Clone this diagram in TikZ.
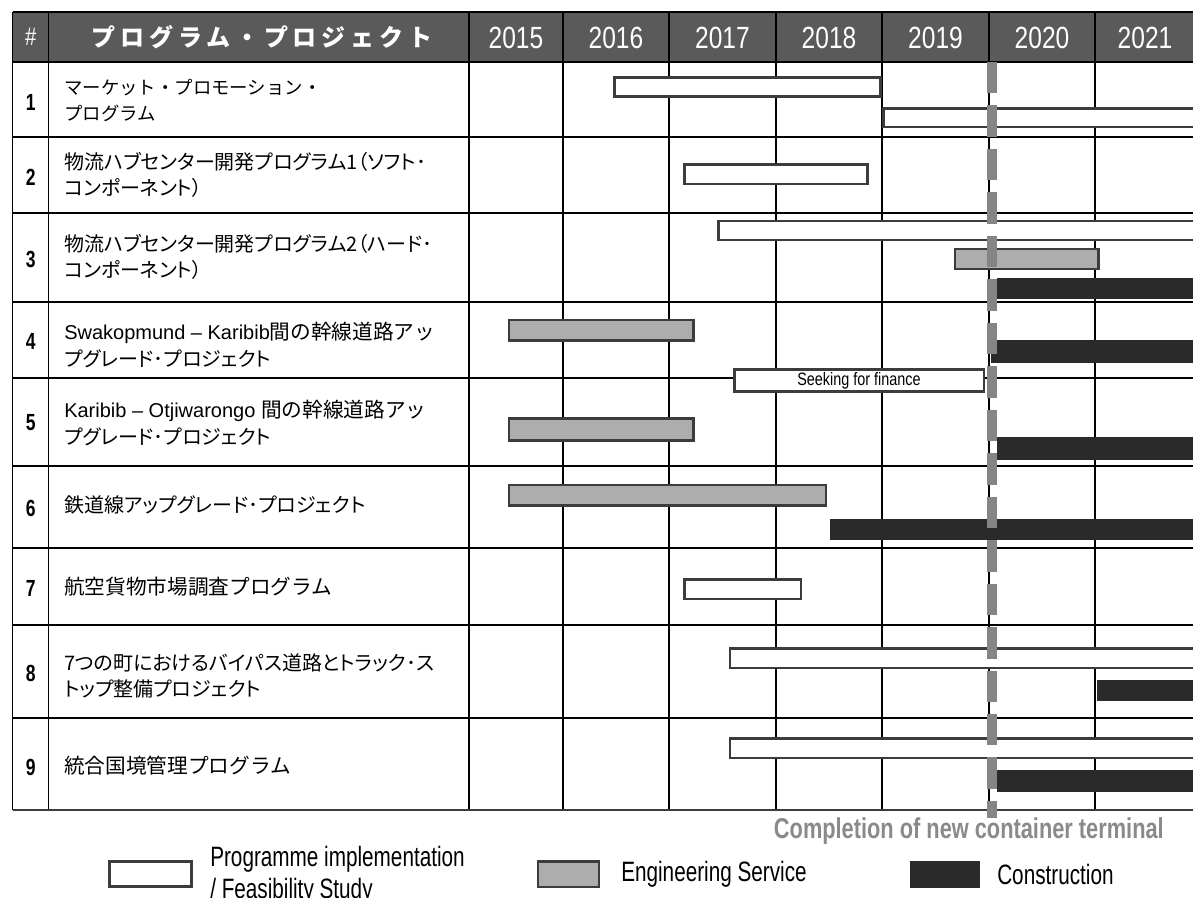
\documentclass[tikz,border=0pt]{standalone}
\usepackage{fontspec}
\setmainfont{Liberation Sans}
\newfontfamily\jp{Noto Sans CJK JP}
\newfontfamily\jpp{Noto Sans CJK JP}[RawFeature=+palt]
\newfontfamily\jphead{Noto Sans CJK JP}[LetterSpace=20]
\newfontfamily\lat{Liberation Sans}
\newfontfamily\narrow{Liberation Sans}[FakeStretch=0.8]
\newfontfamily\numf{Liberation Sans}[FakeStretch=0.75]
\newfontfamily\legf{Liberation Sans}[FakeStretch=0.74]
\newfontfamily\notef{Liberation Sans}[FakeStretch=0.76]
\definecolor{hdr}{HTML}{5A5A5A}
\definecolor{barline}{HTML}{3C3C3C}
\definecolor{gfill}{HTML}{ADADAD}
\definecolor{kfill}{HTML}{2A2A2A}
\definecolor{mile}{HTML}{858585}
\definecolor{note}{HTML}{8A8A8A}
\tikzset{
  gridline/.style={black, line width=1.1pt},
  wbar/.style={draw=barline, line width=2.2pt, fill=white},
  gbar/.style={draw=barline, line width=1.8pt, fill=gfill},
  kbar/.style={draw=kfill, line width=1pt, fill=kfill},
  hdrtxt/.style={text=white, inner sep=0pt, font=\narrow\fontsize{23}{26}\selectfont},
  numtxt/.style={inner sep=0pt, font=\numf\bfseries\fontsize{17.5}{20}\selectfont},
  lbl/.style={anchor=west, inner sep=0pt, align=left, font=\jpp\fontsize{15}{20}\selectfont},
  legtxt/.style={inner sep=0pt, font=\legf\fontsize{21}{24}\selectfont},
}
\newcommand{\latin}[1]{{\lat\fontsize{15}{20}\selectfont #1}}
\newcommand{\wide}[1]{{\jp\fontsize{15.5}{20}\selectfont #1}}
\begin{document}
\begin{tikzpicture}[x=0.75pt,y=-0.75pt]
\useasboundingbox (0,0) rectangle (1193,897);
\clip (0,0) rectangle (1193,897);
% header
\fill[hdr] (12.7,12) rectangle (1193,62);
% grid
\foreach \yy in {12,62,137,213,302,378,466,548,625,718}
  \draw[gridline] (12.7,\yy) -- (1193,\yy);
\foreach \xx in {12.7,48.7,469,563,669,776,882,989,1095}
  \draw[gridline] (\xx,12) -- (\xx,810);
\draw[draw=barline, line width=2pt] (12.7,810) -- (1193,810);
% header texts
\node[hdrtxt, font=\narrow\fontsize{19}{22}\selectfont] (hnum) at (30.7,37) {\#};
\node[hdrtxt, font=\jphead\bfseries\fontsize{18}{22}\selectfont] (htitle) at (262,37) {プログラム・プロジェクト};
\node[hdrtxt] (y15) at (516,38) {2015};
\node[hdrtxt] (y16) at (616,38) {2016};
\node[hdrtxt] (y17) at (722.5,38) {2017};
\node[hdrtxt] (y18) at (829,38) {2018};
\node[hdrtxt] (y19) at (935.5,38) {2019};
\node[hdrtxt] (y20) at (1042,38) {2020};
\node[hdrtxt] (y21) at (1145,38) {2021};
% row numbers
\node[numtxt] (n1) at (30.7,102) {1};
\node[numtxt] (n2) at (30.7,177) {2};
\node[numtxt] (n3) at (30.7,259) {3};
\node[numtxt] (n4) at (30.7,341) {4};
\node[numtxt] (n5) at (30.7,423) {5};
\node[numtxt] (n6) at (30.7,508) {6};
\node[numtxt] (n7) at (30.7,588) {7};
\node[numtxt] (n8) at (30.7,673) {8};
\node[numtxt] (n9) at (30.7,767) {9};
% row labels
\node[lbl, font=\jp\fontsize{13.8}{19.5}\selectfont] (l1) at (64,100) {マーケット・プロモーション・\\プログラム};
\node[lbl] (l2) at (64,175) {物流ハブセンター開発プログラム1（ソフト･\\コンポーネント）};
\node[lbl] (l3) at (64,257) {物流ハブセンター開発プログラム2（ハード･\\コンポーネント）};
\node[lbl] (l4) at (64,345) {\latin{Swakopmund – Karibib}\wide{間の幹線道路アッ}\\プグレード･プロジェクト};
\node[lbl] (l5) at (64,423) {\latin{Karibib – Otjiwarongo }\wide{間の幹線道路アッ}\\プグレード･プロジェクト};
\node[lbl] (l6) at (64,505) {鉄道線アップグレード･プロジェクト};
\node[lbl, font=\jp\fontsize{15.5}{20}\selectfont] (l7) at (64,587) {航空貨物市場調査プログラム};
\node[lbl] (l8) at (64,676) {7つの町におけるバイパス道路とトラック･ス\\トップ整備プロジェクト};
\node[lbl, font=\jp\fontsize{15.5}{20}\selectfont] (l9) at (64,766) {統合国境管理プログラム};
% bars row 1
\draw[wbar] (614.5,77.5) rectangle (880.5,96.5);
\draw[wbar] (883.5,108.5) rectangle (1200,127);
% row 2
\draw[wbar] (684.5,164.5) rectangle (867.5,184);
% row 3
\draw[wbar] (718.5,221) rectangle (1200,240);
\draw[gbar] (955,249) rectangle (1098.5,269);
\draw[kbar] (997.5,278.5) rectangle (1200,298.5);
% row 4
\draw[gbar] (509,320) rectangle (693.5,340.5);
\draw[kbar] (991.5,340.5) rectangle (1200,362.5);
% row 5
\draw[wbar] (734.5,369.5) rectangle (984,391.5);
\node[inner sep=0pt, font=\narrow\fontsize{13.5}{15}\selectfont] (seektxt) at (859,380.5) {Seeking for finance};
\draw[gbar] (509,418.5) rectangle (693.5,440.5);
\draw[kbar] (997.5,437.5) rectangle (1200,459);
% row 6
\draw[gbar] (509,485) rectangle (826,505.5);
\draw[kbar] (830.5,519.5) rectangle (1200,539.5);
% row 7
\draw[wbar] (684.5,579.5) rectangle (801,599);
% row 8
\draw[wbar] (730,648.5) rectangle (1200,668);
\draw[kbar] (1097.5,680.5) rectangle (1200,700.5);
% row 9
\draw[wbar] (730,738.5) rectangle (1200,758);
\draw[kbar] (997.5,771) rectangle (1200,791);
% milestone dashed line
\coordinate (mtop) at (992,62);
\coordinate (mbot) at (992,818);
\draw[mile, line width=7.5pt, dash pattern=on 23.6pt off 9pt] (mtop) -- (mbot);
% completion label
\node[anchor=east, inner sep=0pt, text=note, font=\notef\bfseries\fontsize{21.5}{24}\selectfont] (compl) at (1164,831) {Completion of new container terminal};
% legend
\draw[wbar] (109.5,861.5) rectangle (191.5,886.5);
\node[legtxt, anchor=west, align=left] (lg1) at (210,875) {Programme implementation\\/ Feasibility Study};
\draw[gbar] (538,861.5) rectangle (599,887);
\node[legtxt, anchor=west] (lg2) at (621,874) {Engineering Service};
\draw[kbar] (910.5,861.5) rectangle (979.5,887);
\node[legtxt, anchor=west] (lg3) at (997,874) {Construction};
\end{tikzpicture}
\end{document}
